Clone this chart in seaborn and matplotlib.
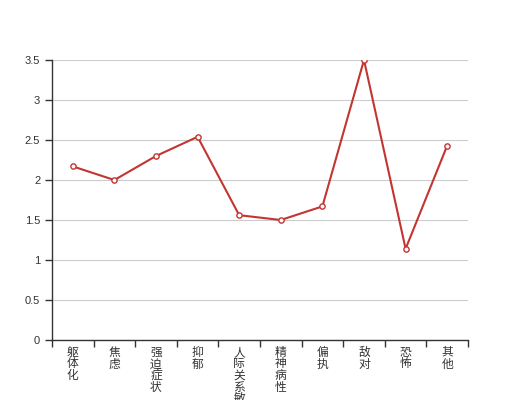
import matplotlib
matplotlib.use("Agg")
import matplotlib.pyplot as plt
import seaborn as sns
import pandas as pd
from matplotlib.ticker import FixedLocator, FuncFormatter

categories = ["躯体化", "焦虑", "强迫症状", "抑郁", "人际关系敏感", "精神病性", "偏执", "敌对", "恐怖", "其他"]
values = [2.17, 2.0, 2.3, 2.54, 1.56, 1.5, 1.67, 3.5, 1.14, 2.43]
y_ticks = [0, 0.5, 1, 1.5, 2, 2.5, 3, 3.5]

sns.set_style("white")
plt.rcParams['font.family'] = ['Liberation Sans', 'Noto Sans CJK SC', 'DejaVu Sans']

df = pd.DataFrame({"pos": range(len(categories)), "value": values})

fig = plt.figure(figsize=(5.2, 4.0), dpi=100)
ax = fig.add_axes([0.1, 0.15, 0.8, 0.7])

sns.lineplot(data=df, x="pos", y="value", ax=ax, color="#c23531", linewidth=1.5,
             marker="o", markersize=3.8, markerfacecolor="white",
             markeredgecolor="#c23531", markeredgewidth=1.0, zorder=3)

ax.set_xlim(-0.5, len(categories) - 0.5)
ax.set_ylim(0, 3.5)
ax.set_xlabel("")
ax.set_ylabel("")

ax.yaxis.set_major_locator(FixedLocator(y_ticks))
ax.yaxis.set_major_formatter(FuncFormatter(lambda v, p: ("%g" % v)))
ax.grid(axis="y", color="#cccccc", linewidth=0.8)
ax.set_axisbelow(True)

ax.xaxis.set_major_locator(FixedLocator([i - 0.5 for i in range(len(categories) + 1)]))
ax.xaxis.set_major_formatter(FuncFormatter(lambda v, p: ""))
ax.xaxis.set_minor_locator(FixedLocator(list(range(len(categories)))))
ax.set_xticklabels(["\n".join(c) for c in categories], minor=True)
ax.tick_params(axis="x", which="major", bottom=True, length=5, width=1, color="#333333", direction="out")
ax.tick_params(axis="x", which="minor", bottom=True, length=0, pad=5, labelsize=8.5, labelcolor="#333333")
for t in ax.xaxis.get_minorticklabels():
    t.set_linespacing(0.95)
    t.set_verticalalignment("top")
ax.tick_params(axis="y", left=True, length=5, width=1, color="#333333", labelsize=8, labelcolor="#333333", direction="out")

for s in ["top", "right"]:
    ax.spines[s].set_visible(False)
for s in ["left", "bottom"]:
    ax.spines[s].set_color("#333333")
    ax.spines[s].set_linewidth(1)

fig.savefig("out.png", dpi=100)
